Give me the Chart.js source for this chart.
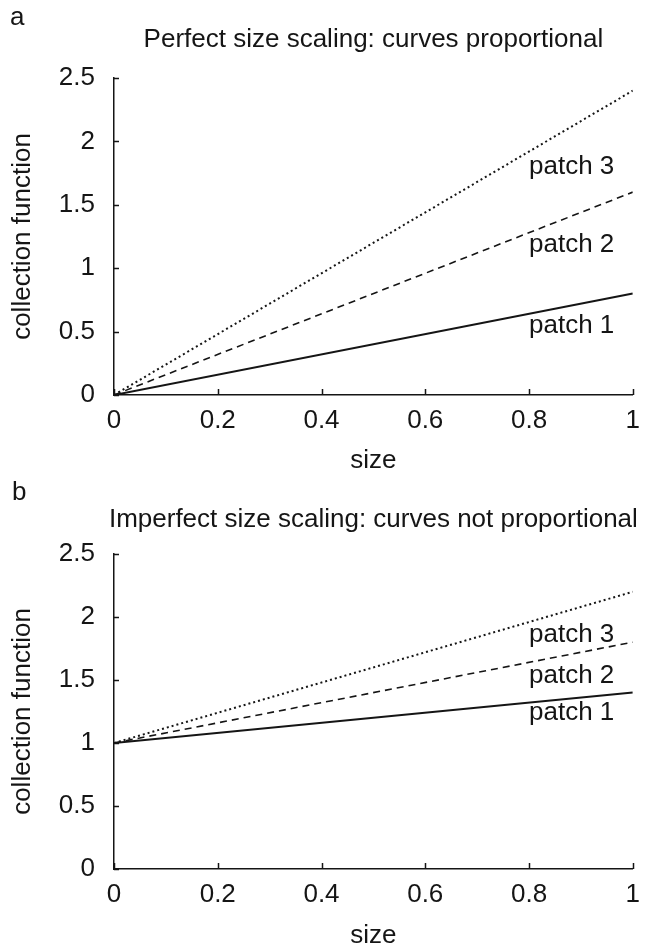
<!DOCTYPE html>
<html>
<head>
<meta charset="utf-8">
<script src="https://cdn.jsdelivr.net/npm/chart.js@4.4.1/dist/chart.umd.min.js"></script>
<style>
  body { margin: 0; background: #fff; }
  #wrap { position: relative; width: 650px; height: 947px; }
  canvas { position: absolute; left: 0; }
</style>
</head>
<body>
<div id="wrap">
  <canvas id="panelA" width="650" height="470" style="top:0"></canvas>
  <canvas id="panelB" width="650" height="477" style="top:470px"></canvas>
</div>
<script>
// x values shared by every curve
const sizeVals = [0, 1];

// panel a: curves proportional
const perfectPatch1 = [0, 0.8];
const perfectPatch2 = [0, 1.6];
const perfectPatch3 = [0, 2.4];

// panel b: curves not proportional
const imperfectPatch1 = [1, 1.4];
const imperfectPatch2 = [1, 1.8];
const imperfectPatch3 = [1, 2.2];

const patchNames = ['patch 1', 'patch 2', 'patch 3'];
const xTickVals = [0, 0.2, 0.4, 0.6, 0.8, 1];
const yTickVals = [0, 0.5, 1, 1.5, 2, 2.5];

const ink = '#151515';
const family = '"Liberation Sans", Arial, Helvetica, sans-serif';
const fontPx = 26;

const lineStyles = [
  { borderWidth: 2, borderDash: [] },
  { borderWidth: 1.6, borderDash: [7, 5] },
  { borderWidth: 2, borderDash: [2, 3] }
];

// draws inward tick marks and all the free text of a panel
const panelDecor = {
  id: 'panelDecor',
  afterDraw(chart, args, opts) {
    const { ctx, chartArea: ca } = chart;
    const xs = chart.scales.x, ys = chart.scales.y;
    ctx.save();
    ctx.strokeStyle = ink;
    ctx.lineWidth = 1.5;
    ctx.beginPath();
    yTickVals.forEach(v => {
      const py = Math.round(ys.getPixelForValue(v)) + 0.5;
      ctx.moveTo(ca.left, py);
      ctx.lineTo(ca.left + 5, py);
    });
    xTickVals.forEach(v => {
      const px = Math.round(xs.getPixelForValue(v)) + 0.5;
      ctx.moveTo(px, ca.bottom);
      ctx.lineTo(px, ca.bottom - 6);
    });
    ctx.stroke();

    ctx.fillStyle = ink;
    ctx.font = fontPx + 'px ' + family;
    ctx.textBaseline = 'alphabetic';

    ctx.textAlign = 'left';
    ctx.fillText(opts.letter, opts.letterX, opts.letterY);

    ctx.textAlign = 'center';
    ctx.fillText(opts.title, (ca.left + ca.right) / 2, opts.titleY);
    ctx.fillText('size', (ca.left + ca.right) / 2, opts.xTitleY);

    ctx.save();
    ctx.translate(30, (ca.top + ca.bottom) / 2);
    ctx.rotate(-Math.PI / 2);
    ctx.fillText('collection function', 0, 0);
    ctx.restore();

    ctx.textAlign = 'left';
    opts.tags.forEach((t, i) => {
      ctx.fillText(patchNames[i], xs.getPixelForValue(t.x), ys.getPixelForValue(t.y));
    });
    ctx.restore();
  }
};

function makePanel(id, series, decor, plotTop, plotBottom) {
  const canvas = document.getElementById(id);
  const H = canvas.height;
  return new Chart(canvas.getContext('2d'), {
    type: 'line',
    data: {
      datasets: series.map((vals, i) => ({
        label: patchNames[i],
        data: sizeVals.map((s, j) => ({ x: s, y: vals[j] })),
        borderColor: ink,
        borderWidth: lineStyles[i].borderWidth,
        borderDash: lineStyles[i].borderDash,
        pointRadius: 0,
        fill: false,
        tension: 0
      }))
    },
    options: {
      responsive: false,
      animation: false,
      devicePixelRatio: 1,
      layout: { padding: { left: 0, top: plotTop, right: 13, bottom: 0 } },
      plugins: {
        legend: { display: false },
        tooltip: { enabled: false },
        panelDecor: decor
      },
      scales: {
        x: {
          type: 'linear',
          min: 0,
          max: 1,
          afterFit: s => { s.height = H - plotBottom; },
          afterBuildTicks: s => { s.ticks = xTickVals.map(v => ({ value: v })); },
          grid: { display: false, drawTicks: false },
          border: { display: true, color: ink, width: 1.5 },
          ticks: {
            color: ink,
            font: { family: family, size: fontPx },
            padding: 10,
            maxRotation: 0,
            autoSkip: false,
            callback: v => String(v)
          }
        },
        y: {
          type: 'linear',
          min: 0,
          max: 2.5,
          afterFit: s => { s.width = 114; },
          afterBuildTicks: s => { s.ticks = yTickVals.map(v => ({ value: v })); },
          grid: { display: false, drawTicks: false },
          border: { display: true, color: ink, width: 1.5 },
          ticks: {
            color: ink,
            font: { family: family, size: fontPx },
            padding: 19,
            autoSkip: false,
            callback: v => String(v)
          }
        }
      }
    },
    plugins: [panelDecor]
  });
}

makePanel('panelA', [perfectPatch1, perfectPatch2, perfectPatch3], {
  letter: 'a', letterX: 10, letterY: 25,
  title: 'Perfect size scaling: curves proportional', titleY: 47,
  xTitleY: 468,
  tags: [{ x: 0.8, y: 0.49 }, { x: 0.8, y: 1.13 }, { x: 0.8, y: 1.74 }]
}, 78, 395);

makePanel('panelB', [imperfectPatch1, imperfectPatch2, imperfectPatch3], {
  letter: 'b', letterX: 12, letterY: 30,
  title: 'Imperfect size scaling: curves not proportional', titleY: 57,
  xTitleY: 473,
  tags: [{ x: 0.8, y: 1.18 }, { x: 0.8, y: 1.48 }, { x: 0.8, y: 1.8 }]
}, 84, 399);
</script>
</body>
</html>
